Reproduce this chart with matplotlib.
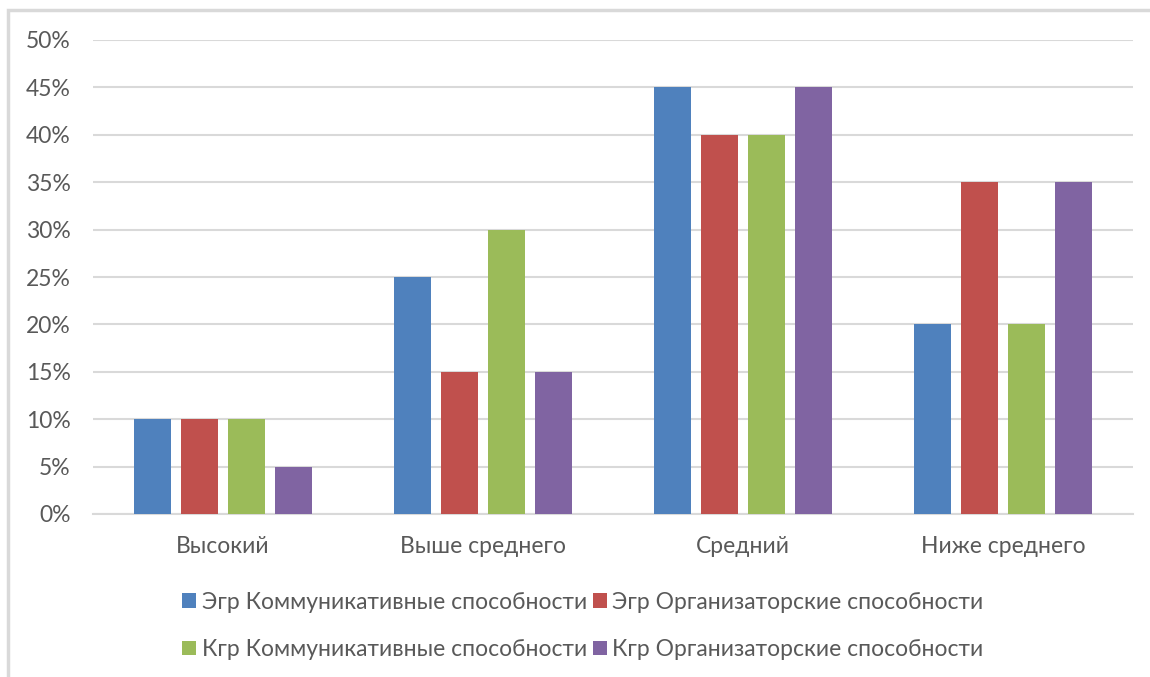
import matplotlib
matplotlib.use("Agg")
import matplotlib.pyplot as plt
import numpy as np
from matplotlib.patches import Rectangle

plt.rcParams['font.family'] = ['Lato', 'DejaVu Sans']

categories = ["Высокий", "Выше среднего", "Средний", "Ниже среднего"]
series_names = ["Эгр Коммуникативные способности", "Эгр Организаторские способности",
                "Кгр Коммуникативные способности", "Кгр Организаторские способности"]
egr_comm = [10, 25, 45, 20]
egr_org = [10, 15, 40, 35]
kgr_comm = [10, 30, 40, 20]
kgr_org = [5, 15, 45, 35]
yticks = [0, 5, 10, 15, 20, 25, 30, 35, 40, 45, 50]

colors = ["#4F81BD", "#C0504D", "#9BBB59", "#8064A2"]
series = [egr_comm, egr_org, kgr_comm, kgr_org]

fig = plt.figure(figsize=(11.5, 6.77), dpi=100)
ax = fig.add_axes([93/1150, 1 - 514/677, 1040/1150, 474/677])

x = np.arange(len(categories))
step = 0.181
width = 0.142
handles = []
for i, (vals, c, name) in enumerate(zip(series, colors, series_names)):
    b = ax.bar(x + (i - 1.5) * step, vals, width, color=c, label=name, zorder=3)
    handles.append(b)

ax.set_xlim(-0.5, len(categories) - 0.5)
ax.set_ylim(0, 50)
ax.set_yticks(yticks)
ax.set_yticklabels([f"{v}%" for v in yticks])
ax.set_xticks(x)
ax.set_xticklabels(categories)
ax.grid(axis='y', color='#d9d9d9', linewidth=1.5, zorder=0)
for s in ['top', 'right', 'left']:
    ax.spines[s].set_visible(False)
ax.spines['bottom'].set_color('#d9d9d9')
ax.spines['bottom'].set_linewidth(1.5)
ax.tick_params(axis='both', length=0, colors='#595959', labelsize=16.5)
ax.tick_params(axis='y', pad=16)
ax.tick_params(axis='x', pad=16)

order = [0, 2, 1, 3]
leg = fig.legend([handles[i] for i in order], [series_names[i] for i in order],
                 ncol=2, loc='center', bbox_to_anchor=(583/1150, 1 - 626/677),
                 frameon=False, fontsize=16.5, handlelength=0.6, handleheight=0.6,
                 handletextpad=0.25, columnspacing=0.25, labelspacing=1.15,
                 labelcolor='#595959')

fig.patches.append(Rectangle((8/1150, -0.05), 1.1, 1.05 - 10/677, transform=fig.transFigure,
                             fill=False, edgecolor='#d9d9d9', linewidth=2.5))

fig.savefig("out.png", dpi=100)
